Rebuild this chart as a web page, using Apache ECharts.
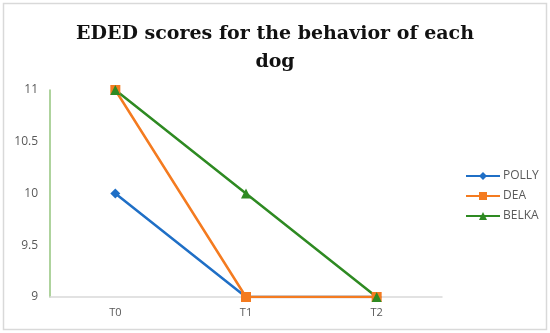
<!DOCTYPE html>
<html><head><meta charset="utf-8">
<script src="https://cdn.jsdelivr.net/npm/echarts@6/dist/echarts.min.js"></script>
<style>html,body{margin:0;padding:0;background:#fff}#c{width:550px;height:333px}</style>
</head><body><div id="c"></div>
<script>
const categories = ["T0", "T1", "T2"];
const polly = [10, 9, 9];
const dea = [11, 9, 9];
const belka = [11, 10, 9];
const yTicks = [9, 9.5, 10, 10.5, 11];

const chart = echarts.init(document.getElementById('c'), null, {renderer: 'canvas'});
const mk = (name, data, color, symbol, size) => ({
  name, type: 'line', data, symbol, symbolSize: size,
  lineStyle: {color, width: 2.5}, itemStyle: {color},
  emphasis: {disabled: true}
});
chart.setOption({
  animation: false,
  backgroundColor: '#fff',
  graphic: [{type: 'rect', shape: {x: 3.5, y: 3.5, width: 543, height: 326}, style: {fill: 'none', stroke: '#d9d9d9', lineWidth: 1.5}, silent: true}],
  title: {
    text: 'EDED scores for the behavior of each\ndog',
    left: 270, textAlign: 'center', top: 15,
    textStyle: {fontFamily: 'DejaVu Serif', fontWeight: 'bold', fontSize: 19, color: '#111', lineHeight: 28}
  },
  legend: {
    orient: 'vertical', left: 460, top: 165, itemGap: 8, itemWidth: 34, itemHeight: 10,
    textStyle: {fontFamily: 'Open Sans', fontSize: 12, color: '#595959', padding: [0, 0, 0, -2]},
    data: ['POLLY', 'DEA', 'BELKA']
  },
  grid: {left: 50, right: 108, top: 90, bottom: 36, containLabel: false},
  xAxis: {
    type: 'category', data: categories, boundaryGap: true,
    axisLine: {lineStyle: {color: '#d9d9d9', width: 1.5}},
    axisTick: {show: false},
    axisLabel: {color: '#595959', fontFamily: 'Open Sans', fontSize: 11, margin: 10}
  },
  yAxis: {
    type: 'value', min: yTicks[0], max: yTicks[yTicks.length - 1], interval: 0.5,
    axisLine: {show: true, lineStyle: {color: '#93c47d', width: 1.5}},
    axisTick: {show: false},
    splitLine: {show: false},
    axisLabel: {color: '#595959', fontFamily: 'Open Sans', fontSize: 12, margin: 12}
  },
  series: [
    mk('POLLY', polly, '#1f6fc6', 'diamond', 10),
    mk('DEA', dea, '#f47b20', 'rect', 10),
    mk('BELKA', belka, '#2e8a22', 'triangle', 10)
  ]
});
</script></body></html>
